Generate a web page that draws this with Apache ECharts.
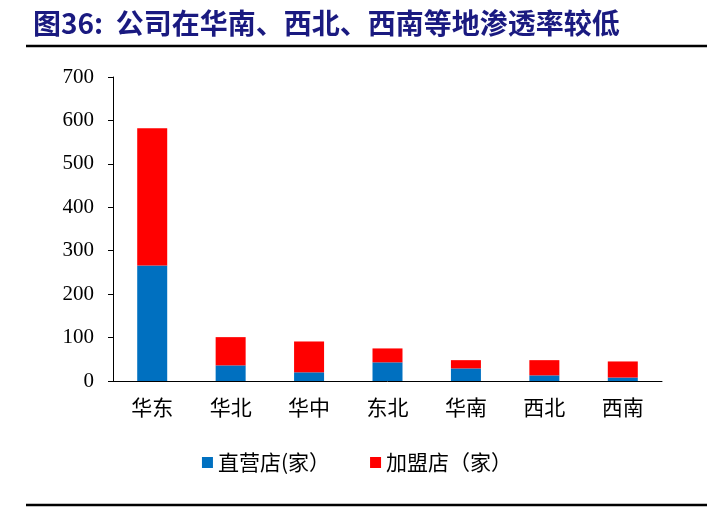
<!DOCTYPE html>
<html><head><meta charset="utf-8">
<script src="https://cdn.jsdelivr.net/npm/echarts@6/dist/echarts.min.js"></script>
<style>html,body{margin:0;padding:0;background:#fff}#c{width:714px;height:508px}</style>
</head><body><div id="c"></div>
<script>
const categories = ['华东','华北','华中','东北','华南','西北','西南'];
const direct = [266, 36, 20, 43, 29, 13, 8];
const franchise = [316, 65, 71, 32, 19, 35, 37];
const yTicks = [0, 100, 200, 300, 400, 500, 600, 700];

const chart = echarts.init(document.getElementById('c'));
const serif = '"Liberation Serif","DejaVu Serif",serif';
const cjk = '"Noto Sans CJK SC",sans-serif';
chart.setOption({
  animation: false,
  backgroundColor: '#fff',
  title: {
    text: '图36:  公司在华南、西北、西南等地渗透率较低',
    left: 28, top: 4,
    textStyle: {fontFamily: cjk, fontWeight: 'bold', fontSize: 28, color: '#1a1a80'}
  },
  graphic: [
    {type: 'line', shape: {x1: 26, y1: 46, x2: 707, y2: 46}, style: {stroke: '#000', lineWidth: 2.5}},
    {type: 'line', shape: {x1: 26, y1: 505, x2: 707, y2: 505}, style: {stroke: '#000', lineWidth: 2.5}}
  ],
  grid: {left: 113, right: 52, top: 77, bottom: 127, containLabel: false},
  legend: {
    bottom: 30, left: 'center',
    itemWidth: 11, itemHeight: 11, itemGap: 40,
    icon: 'rect',
    textStyle: {fontFamily: cjk, fontSize: 21, color: '#000'},
    data: ['直营店(家）', '加盟店（家）']
  },
  xAxis: {
    type: 'category', data: categories,
    axisLine: {lineStyle: {color: '#000', width: 1}},
    axisTick: {inside: true, length: 6, lineStyle: {color: '#000'}},
    axisLabel: {fontFamily: cjk, fontSize: 21, color: '#000', margin: 16}
  },
  yAxis: {
    type: 'value', min: yTicks[0], max: yTicks[yTicks.length - 1], interval: 100,
    axisLine: {show: true, lineStyle: {color: '#000', width: 1}},
    axisTick: {show: true, length: 5, lineStyle: {color: '#000'}},
    splitLine: {show: false},
    axisLabel: {fontFamily: serif, fontSize: 21, color: '#000', margin: 19}
  },
  series: [
    {name: '直营店(家）', type: 'bar', stack: 's', data: direct, barWidth: 30, itemStyle: {color: '#0070C0'}},
    {name: '加盟店（家）', type: 'bar', stack: 's', data: franchise, barWidth: 30, itemStyle: {color: '#FF0000'}}
  ]
});
</script></body></html>
